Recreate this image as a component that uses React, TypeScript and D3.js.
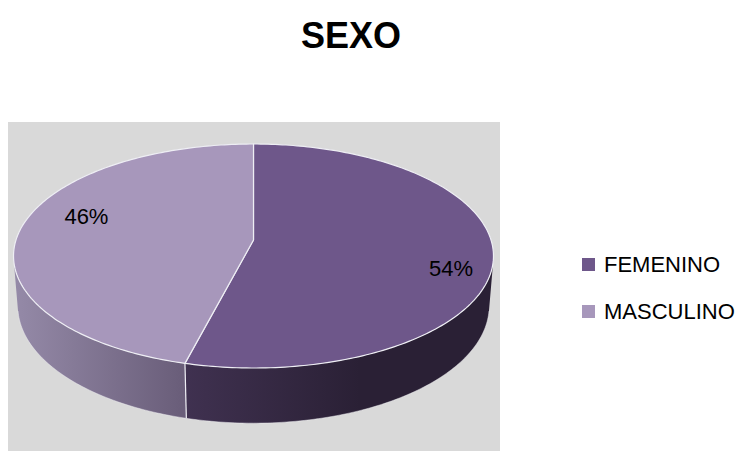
import React from "react";
import * as d3 from "d3";

const title = "SEXO";
const categories = ["FEMENINO", "MASCULINO"];
const values = [54, 46];
const valueLabels = ["54%", "46%"];
const topColors = ["#6e578a", "#a797bb"];
const wallColorsLeft = ["#55426b", "#958aa8"];
const wallColorsRight = ["#2a2035", "#6a5e7a"];
const labelRadius = [0.84, 0.76];

const W = 741;
const H = 451;

// perspective projection parameters
const cx = 253.5;
const cy = 240;
const K = 1475;
const DIST = 6.21;
const alpha = Math.asin(0.462);
const S = Math.sin(alpha);
const C = Math.cos(alpha);
const DEPTH = 0.24;

function proj(theta: number, py: number, r = 1): [number, number] {
  const pz = -Math.cos(theta) * r;
  const px = Math.sin(theta) * r;
  const depth = DIST - (py * S + pz * C);
  const up = py * C - pz * S;
  return [cx + (K * px) / depth, cy - (K * up) / depth];
}

function sample(a0: number, a1: number, py: number): [number, number][] {
  const n = Math.max(2, Math.ceil(Math.abs(a1 - a0) / (Math.PI / 180)));
  const pts: [number, number][] = [];
  for (let i = 0; i <= n; i++) pts.push(proj(a0 + ((a1 - a0) * i) / n, py));
  return pts;
}

export default function App() {
  const pie = d3
    .pie<number>()
    .sort(null)
    .startAngle(0)
    .endAngle(2 * Math.PI)
    .value((d) => d);
  const arcs = pie(values);
  const line = d3.line().curve(d3.curveLinear);

  const visLimit = Math.acos(-1 / (DIST * C));
  const vis0 = visLimit;
  const vis1 = 2 * Math.PI - visLimit;

  const walls = arcs
    .map((a, i) => {
      const a0 = Math.max(a.startAngle, vis0);
      const a1 = Math.min(a.endAngle, vis1);
      if (a1 <= a0) return null;
      const top = sample(a0, a1, 0);
      const bot = sample(a0, a1, -DEPTH).reverse();
      return { i, d: line([...top, ...bot])! + "Z", a0, a1 };
    })
    .filter(Boolean) as { i: number; d: string; a0: number; a1: number }[];

  const tops = arcs.map((a, i) => {
    const pts = [proj(0, 0, 0), ...sample(a.startAngle, a.endAngle, 0)];
    return { i, d: line(pts)! + "Z" };
  });

  const wallEdges = arcs
    .map((a) => a.startAngle)
    .filter((t) => t > vis0 && t < vis1)
    .map((t) => [proj(t, 0), proj(t, -DEPTH)]);

  const outerWallBottom = line(sample(vis0, vis1, -DEPTH))!;

  const labels = arcs.map((a, i) => {
    const mid = (a.startAngle + a.endAngle) / 2 + (10 * Math.PI) / 180;
    const [x, y] = proj(mid, 0, labelRadius[i]);
    return { x, y, text: valueLabels[i] };
  });

  const font = "'Liberation Sans', Arial, sans-serif";

  return (
    <svg
      width={W}
      height={H}
      style={{ position: "absolute", left: 0, top: 0, display: "block", background: "#ffffff" }}
    >
      <defs>
        {categories.map((c, i) => (
          <linearGradient
            key={c}
            id={`wall${i}`}
            gradientUnits="userSpaceOnUse"
            x1={proj(vis1, 0)[0]}
            x2={i === 0 ? 360 : 180}
            y1={0}
            y2={0}
          >
            <stop offset="0" stopColor={wallColorsLeft[i]} />
            <stop offset="1" stopColor={wallColorsRight[i]} />
          </linearGradient>
        ))}
      </defs>
      <rect x={8} y={122} width={492} height={H - 122} fill="#d9d9d9" />
      <text
        x={351}
        y={48}
        textAnchor="middle"
        fontFamily={font}
        fontWeight="bold"
        fontSize={36}
        fill="#000"
      >
        {title}
      </text>
      {walls.map((w) => (
        <path key={`w${w.i}`} d={w.d} fill={`url(#wall${w.i})`} stroke="none" />
      ))}
      <path d={outerWallBottom} fill="none" stroke="#f0f0f4" strokeWidth={0.8} opacity={0.6} />
      {wallEdges.map((e, j) => (
        <path key={`e${j}`} d={line(e)!} stroke="#eeeef4" strokeWidth={1.2} fill="none" />
      ))}
      {tops.map((t) => (
        <path
          key={`t${t.i}`}
          d={t.d}
          fill={topColors[t.i]}
          stroke="#eeeef4"
          strokeWidth={1.2}
          strokeLinejoin="round"
        />
      ))}
      {labels.map((l) => (
        <text
          key={l.text}
          x={l.x}
          y={l.y}
          dy="0.35em"
          textAnchor="middle"
          fontFamily={font}
          fontSize={22}
          fill="#000"
        >
          {l.text}
        </text>
      ))}
      {categories.map((c, i) => (
        <g key={c} transform={`translate(582, ${258 + i * 47})`}>
          <rect x={0} y={0} width={13} height={13} fill={topColors[i]} />
          <text x={22} y={6.5} dy="0.35em" fontFamily={font} fontSize={22} fill="#000">
            {c}
          </text>
        </g>
      ))}
    </svg>
  );
}
